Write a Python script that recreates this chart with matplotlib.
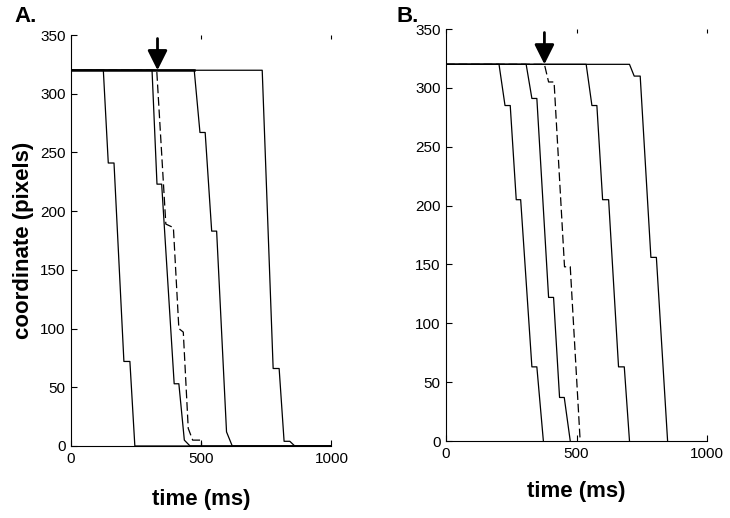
import matplotlib.pyplot as plt

plt.rcParams['font.family'] = ['Liberation Sans', 'DejaVu Sans']

# Panel A traces: time (ms) and coordinate (pixels)
a_t1 = [0, 124, 143, 165, 203, 226, 245, 1000]
a_y1 = [320, 320, 241, 241, 72, 72, 0, 0]
a_t2 = [0, 311, 330, 348, 396, 414, 435, 457, 1000]
a_y2 = [320, 320, 223, 223, 53, 53, 5, 0, 0]
a_t3 = [0, 329, 364, 393, 414, 431, 450, 467, 501, 501]
a_y3 = [320, 320, 189, 186, 100, 97, 15, 5, 5, 0]
a_t4 = [0, 473, 495, 515, 540, 559, 597, 619, 1000]
a_y4 = [320, 320, 267, 267, 183, 183, 12, 0, 0]
a_t5 = [0, 734, 776, 799, 818, 840, 859, 1000]
a_y5 = [320, 320, 66, 66, 4, 4, 0, 0]

# Panel B traces
b_t1 = [0, 203, 226, 246, 269, 286, 329, 348, 373]
b_y1 = [320, 320, 285, 285, 205, 205, 63, 63, 0]
b_t2 = [0, 307, 329, 348, 393, 412, 435, 453, 476]
b_y2 = [320, 320, 291, 291, 122, 122, 37, 37, 0]
b_t3 = [0, 377, 393, 414, 454, 476, 514]
b_y3 = [320, 320, 305, 305, 148, 148, 0]
b_t4 = [0, 537, 559, 578, 600, 623, 661, 683, 703]
b_y4 = [320, 320, 285, 285, 205, 205, 63, 63, 0]
b_t5 = [0, 703, 721, 744, 785, 806, 849]
b_y5 = [320, 320, 310, 310, 156, 156, 0]

arrow_a = 332
arrow_b = 377

fig = plt.figure(figsize=(7.3, 5.18), dpi=100)
axA = fig.add_axes([0.0973, 0.139, 0.3568, 0.7934])
axB = fig.add_axes([0.611, 0.1486, 0.3575, 0.7954])

lw = 0.9
panels = [
    (axA, [(a_t1, a_y1), (a_t2, a_y2), (a_t4, a_y4), (a_t5, a_y5)], (a_t3, a_y3), arrow_a, 17),
    (axB, [(b_t1, b_y1), (b_t2, b_y2), (b_t4, b_y4), (b_t5, b_y5)], (b_t3, b_y3), arrow_b, 15),
]
for ax, solids, dashed, arr, pad in panels:
    for t, y in solids:
        ax.plot(t, y, color='black', lw=lw)
    ax.plot(dashed[0], dashed[1], color='black', lw=lw, dashes=(7, 3))
    ax.annotate('', xy=(arr, 320), xytext=(arr, 347),
                arrowprops=dict(arrowstyle='-|>,head_length=1.2,head_width=0.6',
                                color='black', lw=2, shrinkA=0, shrinkB=0))
    ax.set_xlim(0, 1000)
    ax.set_ylim(0, 350)
    ax.set_xticks([0, 500, 1000])
    ax.set_yticks(range(0, 351, 50))
    for s in ['top', 'right']:
        ax.spines[s].set_visible(False)
    for s in ['left', 'bottom']:
        ax.spines[s].set_linewidth(0.8)
    ax.tick_params(direction='in', length=4, width=0.8, labelsize=11, pad=4)
    ax.tick_params(axis='x', top=True, labeltop=False)
    for tk in ax.xaxis.get_major_ticks():
        tk.tick2line.set_color('#e4e4e4')
        tk.tick2line.set_markersize(3)
    ax.set_xlabel('time (ms)', fontsize=16, fontweight='bold', labelpad=pad)

# thicker overlap at the start of panel A
axA.plot([0, a_t4[1]], [320, 320], color='black', lw=1.8)

axA.set_ylabel('coordinate (pixels)', fontsize=16, fontweight='bold', labelpad=4)

fig.text(0.02, 0.958, 'A.', fontsize=16, fontweight='bold')
fig.text(0.543, 0.958, 'B.', fontsize=16, fontweight='bold')

fig.savefig('out.png', dpi=100)
